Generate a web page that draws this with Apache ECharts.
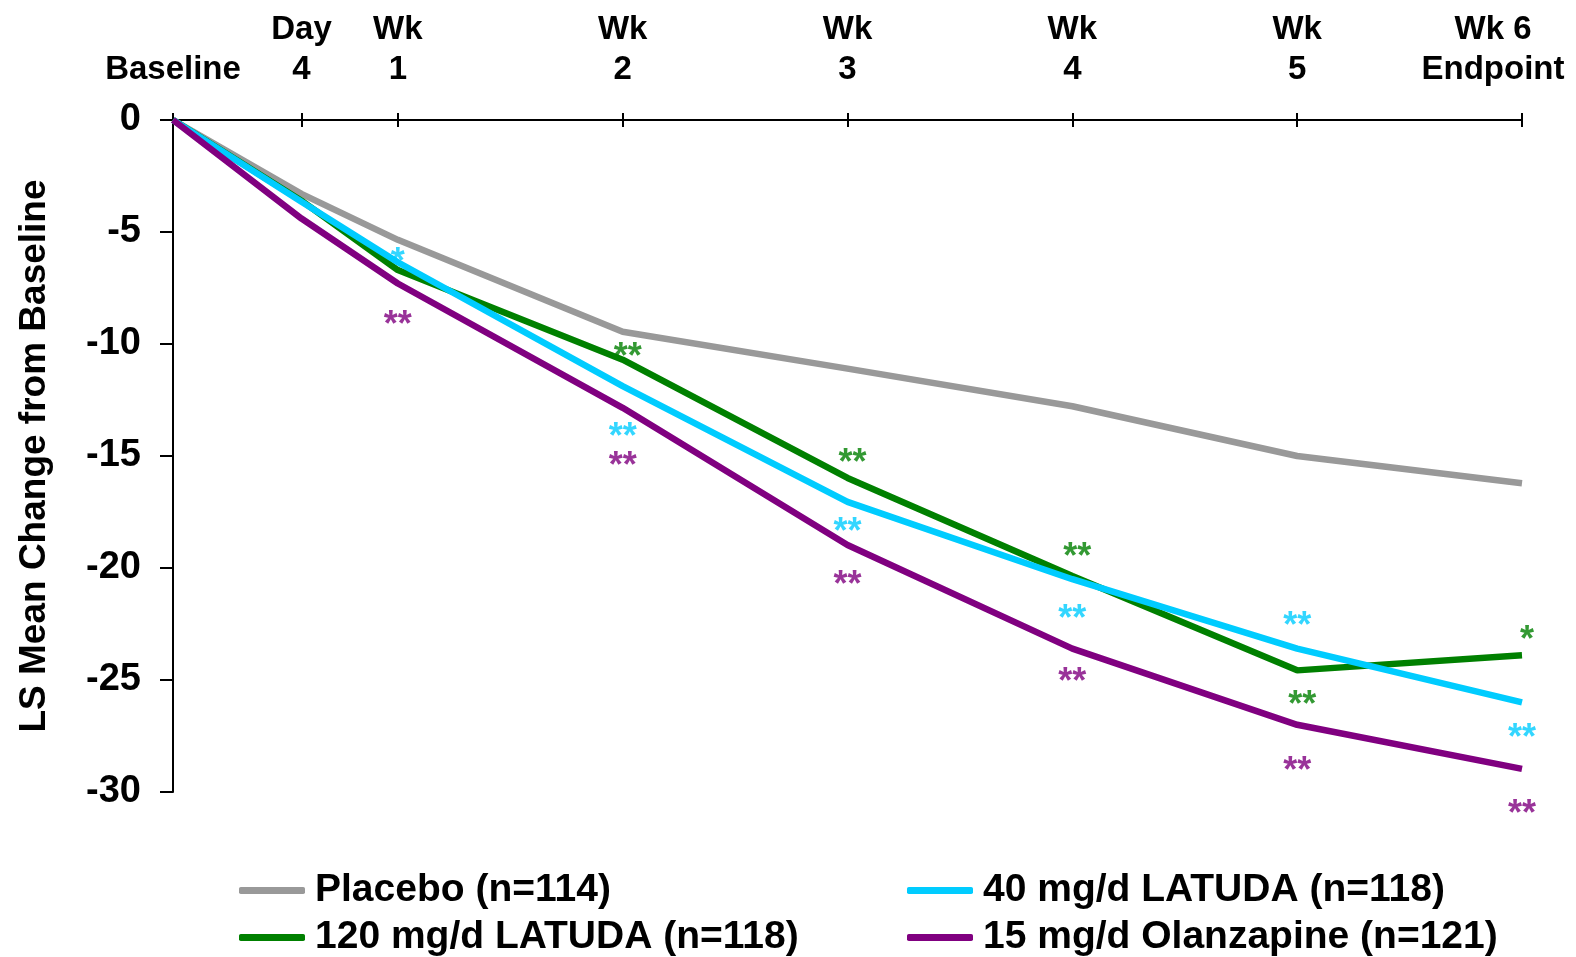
<!DOCTYPE html>
<html>
<head>
<meta charset="utf-8">
<script src="https://cdn.jsdelivr.net/npm/echarts@6/dist/echarts.min.js"></script>
<style>
html,body{margin:0;padding:0;background:#fff;}
#chart{width:1576px;height:957px;}
</style>
</head>
<body>
<div id="chart"></div>
<script>
// study days for each visit and the labels printed over them
var tickDays = [0, 4, 7, 14, 21, 28, 35, 42];
var tickLabels = ['Baseline', 'Day\n4', 'Wk\n1', 'Wk\n2', 'Wk\n3', 'Wk\n4', 'Wk\n5', 'Wk 6\nEndpoint'];

// LS mean change from baseline, one value per visit
var placebo = [0, -3.3, -5.35, -9.45, -11.1, -12.78, -15.0, -16.22];
var latuda40 = [0, -3.65, -6.35, -11.88, -17.05, -20.5, -23.6, -26.0];
var latuda120 = [0, -3.6, -6.7, -10.7, -15.98, -20.36, -24.57, -23.9];
var olanzapine = [0, -4.4, -7.3, -12.85, -18.97, -23.6, -27.0, -28.97];

// significance marks: [day, y, text]
var stars40 = [[7, -5.92, '*'], [14, -13.75, '**'], [21, -18.0, '**'], [28, -21.9, '**'], [35, -22.2, '**'], [42, -27.2, '**']];
var stars120 = [[14, -10.18, '**'], [21, -14.9, '**'], [28, -19.1, '**'], [35, -25.7, '**'], [42, -22.8, '*']];
var starsOlz = [[7, -8.75, '**'], [14, -15.04, '**'], [21, -20.36, '**'], [28, -24.7, '**'], [35, -28.65, '**'], [42, -30.6, '**']];

var FONT = "'Liberation Sans', Arial, sans-serif";
var colors = {
    placebo: '#999999',
    l40: '#00CCFF',
    l120: '#008000',
    olz: '#800080'
};

function pairs(vals){
    return tickDays.map(function(d, i){ return [d, vals[i]]; });
}

function lineSeries(name, vals, color){
    return {
        name: name,
        type: 'line',
        data: pairs(vals),
        showSymbol: false,
        symbol: 'none',
        lineStyle: {color: color, width: 6.5},
        itemStyle: {color: color},
        z: 3
    };
}

function starSeries(vals, color, dx){
    return {
        type: 'scatter',
        data: vals,
        symbolSize: 0,
        clip: false,
        silent: true,
        z: 4,
        label: {
            show: true,
            position: 'inside',
            offset: [dx, 10],
            color: color,
            fontFamily: FONT,
            fontWeight: 'bold',
            fontSize: 36,
            formatter: function(p){ return p.value[2]; }
        }
    };
}

var legendText = {fontFamily: FONT, fontWeight: 'bold', fontSize: 39, color: '#000', lineHeight: 38, padding: [0, 0, 0, 5]};
var tickFont = {color: '#000', fontFamily: FONT, fontWeight: 'bold', fontSize: 33, lineHeight: 40};

var myChart = echarts.init(document.getElementById('chart'));
var option = {
    backgroundColor: '#fff',
    animation: false,
    grid: {
        left: 173,
        right: 54,
        top: 120,
        bottom: 165,
        outerBoundsMode: 'none'
    },
    legend: [
        {
            orient: 'vertical',
            left: 239,
            top: 871,
            padding: 0,
            itemWidth: 66,
            itemHeight: 7,
            itemGap: 8,
            icon: 'roundRect',
            data: ['Placebo (n=114)', '120 mg/d LATUDA (n=118)'],
            textStyle: legendText
        },
        {
            orient: 'vertical',
            left: 907,
            top: 871,
            padding: 0,
            itemWidth: 66,
            itemHeight: 7,
            itemGap: 8,
            icon: 'roundRect',
            data: ['40 mg/d LATUDA (n=118)', '15 mg/d Olanzapine (n=121)'],
            textStyle: legendText
        }
    ],
    xAxis: [
        {
            type: 'value',
            position: 'top',
            min: 0,
            max: 42,
            splitLine: {show: false},
            axisLine: {show: true, onZero: false, lineStyle: {color: '#000', width: 2}},
            axisTick: {show: true, length: 7, customValues: tickDays, lineStyle: {color: '#000', width: 2}},
            axisLabel: Object.assign({
                show: true,
                customValues: tickDays,
                margin: 30,
                rich: {
                    // last label sits a little left of its tick, as in the original
                    end: Object.assign({padding: [0, 58, 0, 0]}, tickFont)
                },
                formatter: function(v){
                    var i = tickDays.indexOf(v);
                    if (i < 0) return '';
                    if (i === tickDays.length - 1) {
                        return tickLabels[i].split('\n').map(function(s){ return '{end|' + s + '}'; }).join('\n');
                    }
                    return tickLabels[i];
                }
            }, tickFont)
        },
        {
            // second copy only to draw the tick halves below the line
            type: 'value',
            position: 'top',
            min: 0,
            max: 42,
            splitLine: {show: false},
            axisLine: {show: false},
            axisTick: {show: true, inside: true, length: 7, customValues: tickDays, lineStyle: {color: '#000', width: 2}},
            axisLabel: {show: false}
        }
    ],
    yAxis: {
        type: 'value',
        min: -30,
        max: 0,
        interval: 5,
        splitLine: {show: false},
        axisLine: {show: true, onZero: false, lineStyle: {color: '#000', width: 2}},
        axisTick: {show: true, length: 13, lineStyle: {color: '#000', width: 2}},
        axisLabel: {
            margin: 32,
            color: '#000',
            fontFamily: FONT,
            fontWeight: 'bold',
            fontSize: 38
        },
        name: 'LS Mean Change from Baseline',
        nameLocation: 'middle',
        nameGap: 120,
        nameTextStyle: {
            color: '#000',
            fontFamily: FONT,
            fontWeight: 'bold',
            fontSize: 37
        }
    },
    series: [
        lineSeries('Placebo (n=114)', placebo, colors.placebo),
        lineSeries('120 mg/d LATUDA (n=118)', latuda120, colors.l120),
        lineSeries('40 mg/d LATUDA (n=118)', latuda40, colors.l40),
        lineSeries('15 mg/d Olanzapine (n=121)', olanzapine, colors.olz),
        starSeries(stars40, colors.l40, 0),
        starSeries(stars120, colors.l120, 5),
        starSeries(starsOlz, colors.olz, 0)
    ]
};
myChart.setOption(option);
</script>
</body>
</html>
